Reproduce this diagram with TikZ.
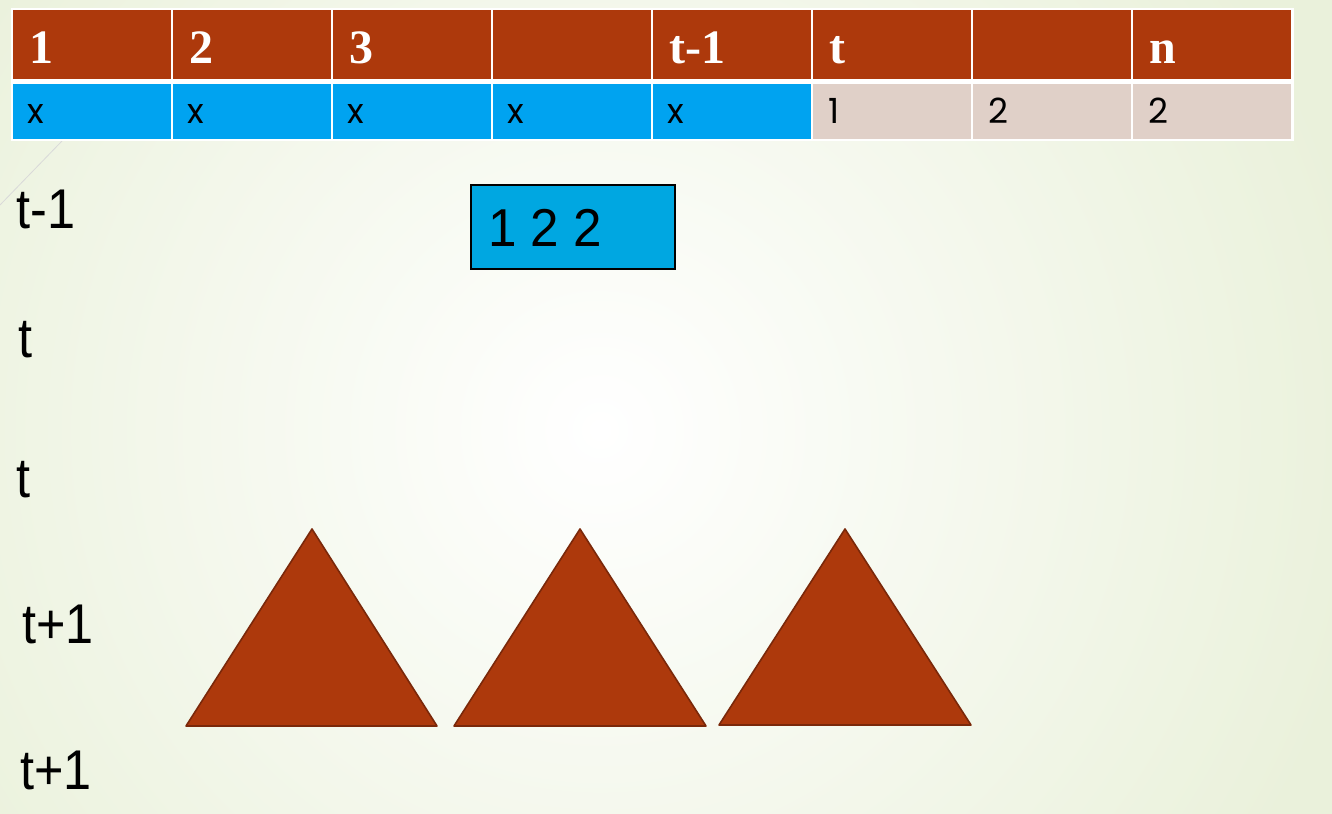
\documentclass[tikz,border=0pt]{standalone}
\usepackage{fontspec}
\setmainfont{Liberation Serif}
\newfontfamily\hfont{Liberation Serif}
\newfontfamily\cfont{Poppins}
\newfontfamily\lfont[FakeStretch=0.9]{Liberation Sans}
\newfontfamily\bfont[FakeStretch=0.96]{Liberation Sans}
\definecolor{bgc}{RGB}{234,241,219}
\definecolor{brn}{RGB}{173,57,12}
\definecolor{brnd}{RGB}{122,40,10}
\definecolor{blu}{RGB}{0,163,240}
\definecolor{pnk}{RGB}{224,208,200}
\definecolor{boxb}{RGB}{0,167,225}
\tikzset{
  hcell/.style={fill=brn, draw=none, minimum width=118.5pt, minimum height=51.75pt, inner sep=0pt, anchor=north west},
  bcell/.style={fill=blu, draw=none, minimum width=118.5pt, minimum height=41.25pt, inner sep=0pt, anchor=north west},
  pcell/.style={fill=pnk, draw=none, minimum width=118.5pt, minimum height=41.25pt, inner sep=0pt, anchor=north west},
  htxt/.style={anchor=base west, inner sep=0pt, text=white, font=\hfont\bfseries\fontsize{36}{40}\selectfont},
  ctxt/.style={anchor=base west, inner sep=0pt, text=black, font=\cfont\fontsize{26}{30}\selectfont},
  ltxt/.style={anchor=base west, inner sep=0pt, text=black, font=\lfont\fontsize{42}{46}\selectfont},
  tri/.style={fill=brn, draw=brnd, line width=1.2pt, line join=round},
  tribase/.style={draw=brnd, line width=2pt},
}
\begin{document}
\begin{tikzpicture}[x=0.75pt,y=-0.75pt]
\useasboundingbox (0,0) rectangle (1332,814);
% background
\fill[bgc] (0,0) rectangle (1332,814);
\begin{scope}
\clip (0,0) rectangle (1332,814);
\shade[inner color=white, outer color=bgc] (600,430) circle (780);
\end{scope}
\draw[black!15, line width=0.6pt] (0,205) -- (62,141);
% table frame
\fill[white] (11,8) rectangle (1294,141);
% header row
\foreach \i/\t in {1/1,2/2,3/3,4/,5/t-1,6/t,7/,8/n}{
  \node[hcell] (h\i) at ({13+160*(\i-1)},10) {};
  \node[htxt] (ht\i) at ({29+160*(\i-1)},63) {\t};
}
% second row
\foreach \i in {1,...,5}{
  \node[bcell] (r\i) at ({13+160*(\i-1)},84) {};
  \node[ctxt] (rt\i) at ({27+160*(\i-1)},123) {x};
}
\foreach \i/\t in {6/1,7/2,8/2}{
  \node[pcell] (r\i) at ({13+160*(\i-1)},84) {};
  \node[ctxt] (rt\i) at ({28+160*(\i-1)},123) {\t};
}
% box
\node[fill=boxb, draw=black, line width=1.2pt, minimum width=153pt, minimum height=63pt, inner sep=0pt, anchor=north west] (box) at (470,184) {};
\node[anchor=base west, inner sep=0pt, font=\bfont\fontsize{40}{46}\selectfont] (boxt) at (488,246) {1 2 2};
% left labels
\node[ltxt] (l1) at (16,228) {t-1};
\node[ltxt] (l2) at (18,357) {t};
\node[ltxt] (l3) at (16,497) {t};
\node[ltxt] (l4) at (22,643) {t+1};
\node[ltxt] (l5) at (20,789) {t+1};
% triangles
\draw[tri] (312,529) -- (437,726) -- (186,726) -- cycle;
\draw[tribase] (186,726) -- (437,726);
\draw[tri] (580,529) -- (706,726) -- (454,726) -- cycle;
\draw[tribase] (454,726) -- (706,726);
\draw[tri] (845,529) -- (971,725) -- (719,725) -- cycle;
\draw[tribase] (719,725) -- (971,725);
\end{tikzpicture}
\end{document}
